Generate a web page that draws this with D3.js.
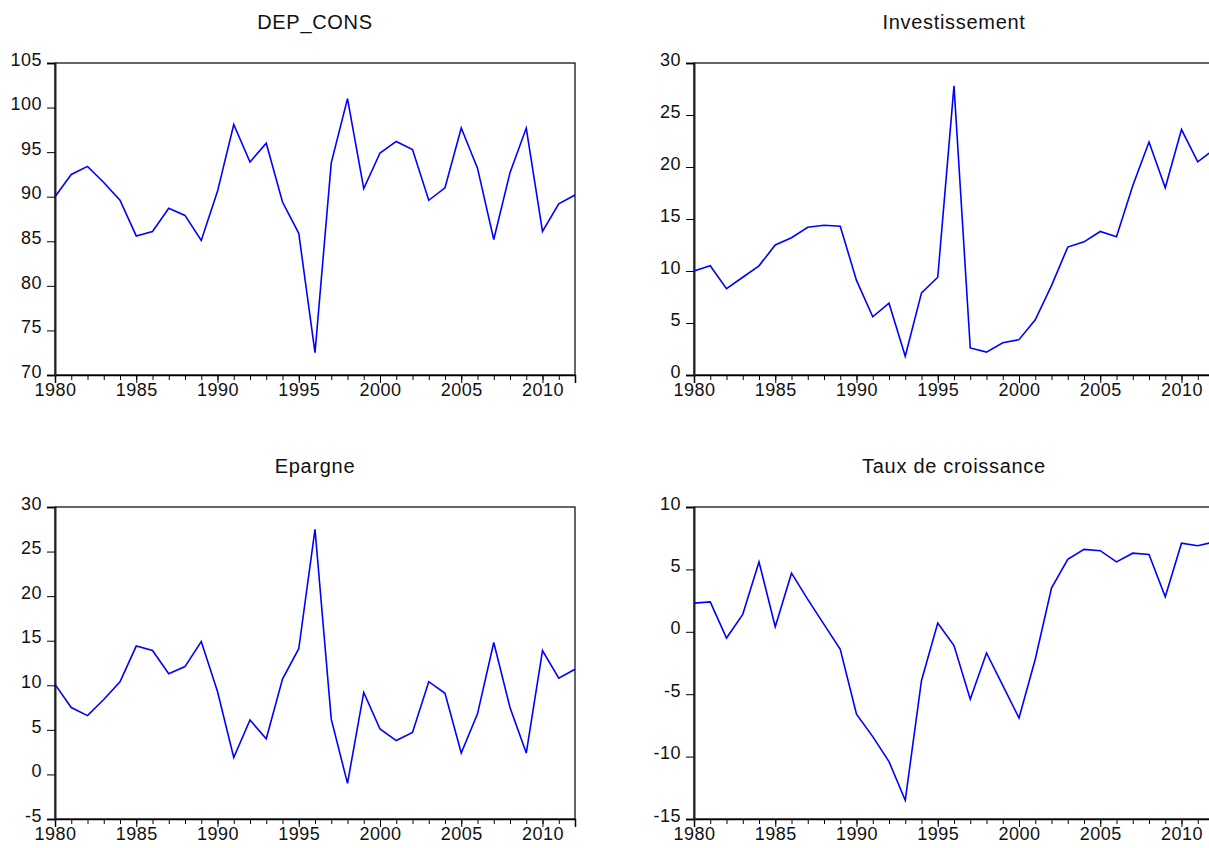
<!DOCTYPE html>
<html>
<head>
<meta charset="utf-8">
<script src="https://cdn.jsdelivr.net/npm/d3@7"></script>
<style>
  body { margin: 0; background: #fff; }
  text { font-family: "Liberation Sans", Arial, sans-serif; fill: #111; }
</style>
</head>
<body>
<div id="chart"></div>
<script>
const years = d3.range(1980, 2013);

const depCons = [90.0, 92.5, 93.4, 91.6, 89.6, 85.6, 86.1, 88.7, 87.9, 85.1,
  90.6, 98.1, 93.9, 96.0, 89.4, 85.9, 72.5, 93.8, 101.0, 90.9,
  94.9, 96.2, 95.3, 89.6, 91.0, 97.7, 93.2, 85.2, 92.7, 97.7,
  86.1, 89.2, 90.2];

const investissement = [10.0, 10.5, 8.3, 9.4, 10.5, 12.5, 13.2, 14.2, 14.4, 14.3,
  9.1, 5.6, 6.9, 1.8, 7.9, 9.4, 27.8, 2.6, 2.2, 3.1,
  3.4, 5.3, 8.6, 12.3, 12.8, 13.8, 13.3, 18.2, 22.4, 18.0,
  23.6, 20.5, 21.7];

const epargne = [10.1, 7.5, 6.6, 8.4, 10.4, 14.4, 13.9, 11.3, 12.1, 14.9,
  9.3, 1.9, 6.1, 4.0, 10.7, 14.1, 27.5, 6.2, -1.0, 9.2,
  5.1, 3.8, 4.7, 10.4, 9.1, 2.4, 6.8, 14.8, 7.5, 2.4,
  13.9, 10.8, 11.8];

const tauxCroissance = [2.3, 2.4, -0.5, 1.4, 5.6, 0.4, 4.7, 2.6, 0.6, -1.4,
  -6.6, -8.4, -10.4, -13.5, -3.9, 0.7, -1.1, -5.4, -1.7, -4.3,
  -6.9, -2.2, 3.5, 5.8, 6.6, 6.5, 5.6, 6.3, 6.2, 2.8,
  7.1, 6.9, 7.2];

const depConsTicks = [70, 75, 80, 85, 90, 95, 100, 105];
const investTicks = [0, 5, 10, 15, 20, 25, 30];
const epargneTicks = [-5, 0, 5, 10, 15, 20, 25, 30];
const tauxTicks = [-15, -10, -5, 0, 5, 10];
const yearLabels = [1980, 1985, 1990, 1995, 2000, 2005, 2010];

const w = 1209;
const h = 848;

const svg = d3.select("#chart")
  .append("svg")
  .attr("width", w)
  .attr("height", h);

function drawPanel(title, values, yTicks, left, top) {
  const pw = 520;
  const ph = 312;

  const xScale = d3.scaleLinear()
    .domain([1980, 2012])
    .range([0, pw]);

  const yScale = d3.scaleLinear()
    .domain([yTicks[0], yTicks[yTicks.length - 1]])
    .range([ph, 0]);

  const g = svg.append("g")
    .attr("transform", "translate(" + left + "," + top + ")");

  // frame
  g.append("rect")
    .attr("x", 0)
    .attr("y", 0)
    .attr("width", pw)
    .attr("height", ph)
    .attr("fill", "none")
    .attr("stroke", "#000")
    .attr("stroke-width", 1.2);

  // minor year ticks
  const xMinor = d3.axisBottom(xScale)
    .tickValues(years)
    .tickSize(5)
    .tickFormat("");

  g.append("g")
    .attr("transform", "translate(0," + ph + ")")
    .call(xMinor)
    .call(a => a.select(".domain").remove())
    .call(a => a.selectAll("line").attr("stroke", "#000"));

  const xAxis = d3.axisBottom(xScale)
    .tickValues(yearLabels)
    .tickSize(8)
    .tickPadding(1)
    .tickFormat(d => String(d));

  g.append("g")
    .attr("transform", "translate(0," + ph + ")")
    .call(xAxis)
    .call(a => a.select(".domain").attr("stroke", "#000").attr("stroke-width", 1.5))
    .call(a => a.selectAll("line").attr("stroke", "#000"))
    .call(a => a.selectAll("text")
      .attr("font-size", 18)
      .attr("dy", "0.68em")
      .style("letter-spacing", "0.5px")
      .attr("fill", "#111"));

  // plain hyphen for negatives, like the original
  const yAxis = d3.axisLeft(yScale)
    .tickValues(yTicks)
    .tickSize(8)
    .tickPadding(5)
    .tickFormat(d => String(d));

  g.append("g")
    .call(yAxis)
    .call(a => a.select(".domain").attr("stroke", "#222").attr("stroke-width", 2))
    .call(a => a.selectAll("line").attr("stroke", "#000"))
    .call(a => a.selectAll("text")
      .attr("font-size", 18)
      .attr("dy", "0.12em")
      .style("letter-spacing", "0.5px")
      .attr("fill", "#111"));

  const line = d3.line()
    .x((d, i) => xScale(years[i]))
    .y(d => yScale(d));

  g.append("path")
    .datum(values)
    .attr("d", line)
    .attr("fill", "none")
    .attr("stroke", "#0000ff")
    .attr("stroke-width", 1.6)
    .attr("stroke-linejoin", "miter");

  svg.append("text")
    .attr("x", left + pw / 2)
    .attr("y", top - 34)
    .attr("text-anchor", "middle")
    .attr("font-size", 20)
    .style("letter-spacing", "0.7px")
    .text(title);
}

drawPanel("DEP_CONS", depCons, depConsTicks, 55, 63);
drawPanel("Investissement", investissement, investTicks, 694, 63);
drawPanel("Epargne", epargne, epargneTicks, 55, 507);
drawPanel("Taux de croissance", tauxCroissance, tauxTicks, 694, 507);
</script>
</body>
</html>
